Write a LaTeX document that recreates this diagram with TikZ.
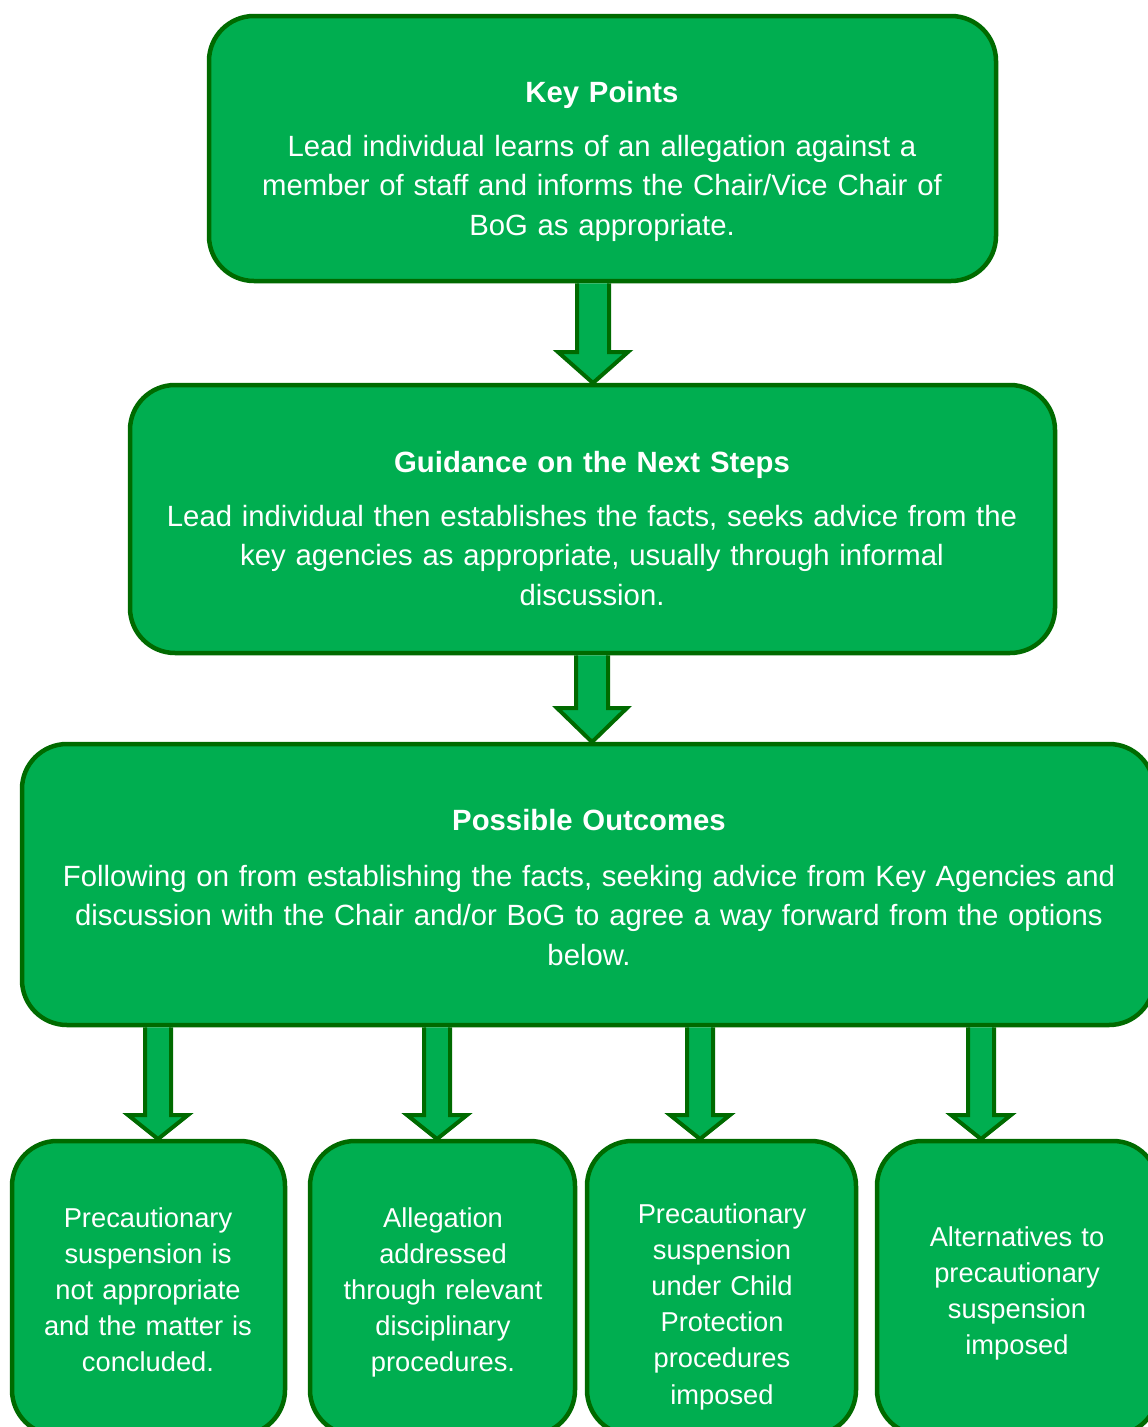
\documentclass[tikz,border=0pt]{standalone}
\usepackage{fontspec}
\setmainfont{Liberation Sans}
\definecolor{boxgreen}{HTML}{00AE50}
\definecolor{edgegreen}{HTML}{006A00}
\tikzset{
  box/.style={draw=edgegreen, fill=boxgreen, line width=4.5pt, rounded corners=45pt,
    outer sep=0pt, inner sep=0pt},
  arrowstyle/.style={draw=edgegreen, fill=boxgreen, line width=4pt, line join=miter},
  bigtext/.style={text=white, font=\fontsize{29.3}{39.5}\selectfont, align=center,
    text width=#1, anchor=base, inner sep=0pt},
  smalltext/.style={text=white, font=\fontsize{27.3}{36.2}\selectfont, align=center,
    text width=#1, anchor=base, inner sep=0pt}
}
% #1 x, #2 from node, #3 to node, #4 shaft half width, #5 head half width, #6 head length
\newcommand\blockarrow[6]{%
  \coordinate (as) at (#1,0 |- #2.south);
  \coordinate (at) at (#1,0 |- #3.north);
  \draw[arrowstyle] ([xshift=-#4pt,yshift=-2.25pt]as) -- ([xshift=-#4pt,yshift=#6pt]at)
    -- ([xshift=-#5pt,yshift=#6pt]at) -- ([yshift=2pt]at) -- ([xshift=#5pt,yshift=#6pt]at)
    -- ([xshift=#4pt,yshift=#6pt]at) -- ([xshift=#4pt,yshift=-2.25pt]as);
}
\begin{document}
\begin{tikzpicture}[x=1pt,y=-1pt]
\useasboundingbox (0,0) rectangle (1148,1427);
\clip (0,0) rectangle (1148,1427);

% main boxes
\node[box, minimum width=787pt, minimum height=265pt] (kp) at (602.5,148.5) {};
\node[box, minimum width=925pt, minimum height=268pt] (gd) at (592.5,519) {};
\node[box, minimum width=1132pt, minimum height=281pt] (po) at (588,884.5) {};

% outcome boxes
\node[box, minimum width=273pt, minimum height=294pt] (o1) at (148.5,1288) {};
\node[box, minimum width=265pt, minimum height=294pt] (o2) at (442.5,1288) {};
\node[box, minimum width=269pt, minimum height=294pt] (o3) at (721.5,1288) {};
\node[box, minimum width=281pt, minimum height=294pt] (o4) at (1017.5,1288) {};

% arrows
\blockarrow{593}{kp}{gd}{16}{35}{33}
\blockarrow{592}{gd}{po}{16}{35}{36}
\blockarrow{158}{po}{o1}{13}{30}{26}
\blockarrow{437}{po}{o2}{13}{30}{26}
\blockarrow{700}{po}{o3}{13}{30}{26}
\blockarrow{981}{po}{o4}{13}{30}{26}

% texts
\node[bigtext=780pt] (kpt) at (602,102) {{\bfseries Key Points}\\[14.5pt]
  Lead individual learns of an allegation against a\\
  member of staff and informs the Chair/Vice Chair of\\
  BoG as appropriate.};
\node[bigtext=915pt] (gdt) at (592,472) {{\bfseries Guidance on the Next Steps}\\[14.5pt]
  Lead individual then establishes the facts, seeks advice from the\\
  key agencies as appropriate, usually through informal\\
  discussion.};
\node[bigtext=1120pt] (pot) at (589,830) {{\bfseries Possible Outcomes}\\[16.5pt]
  Following on from establishing the facts, seeking advice from Key Agencies and\\
  discussion with the Chair and/or BoG to agree a way forward from the options\\
  below.};

\node[smalltext=260pt] (o1t) at (148,1227) {Precautionary\\ suspension is\\ not appropriate\\ and the matter is\\ concluded.};
\node[smalltext=255pt] (o2t) at (443,1227) {Allegation\\ addressed\\ through relevant\\ disciplinary\\ procedures.};
\node[smalltext=255pt] (o3t) at (722,1223) {Precautionary\\ suspension\\ under Child\\ Protection\\ procedures\\ imposed};
\node[smalltext=265pt] (o4t) at (1017,1246) {Alternatives to\\ precautionary\\ suspension\\ imposed};
\end{tikzpicture}
\end{document}
